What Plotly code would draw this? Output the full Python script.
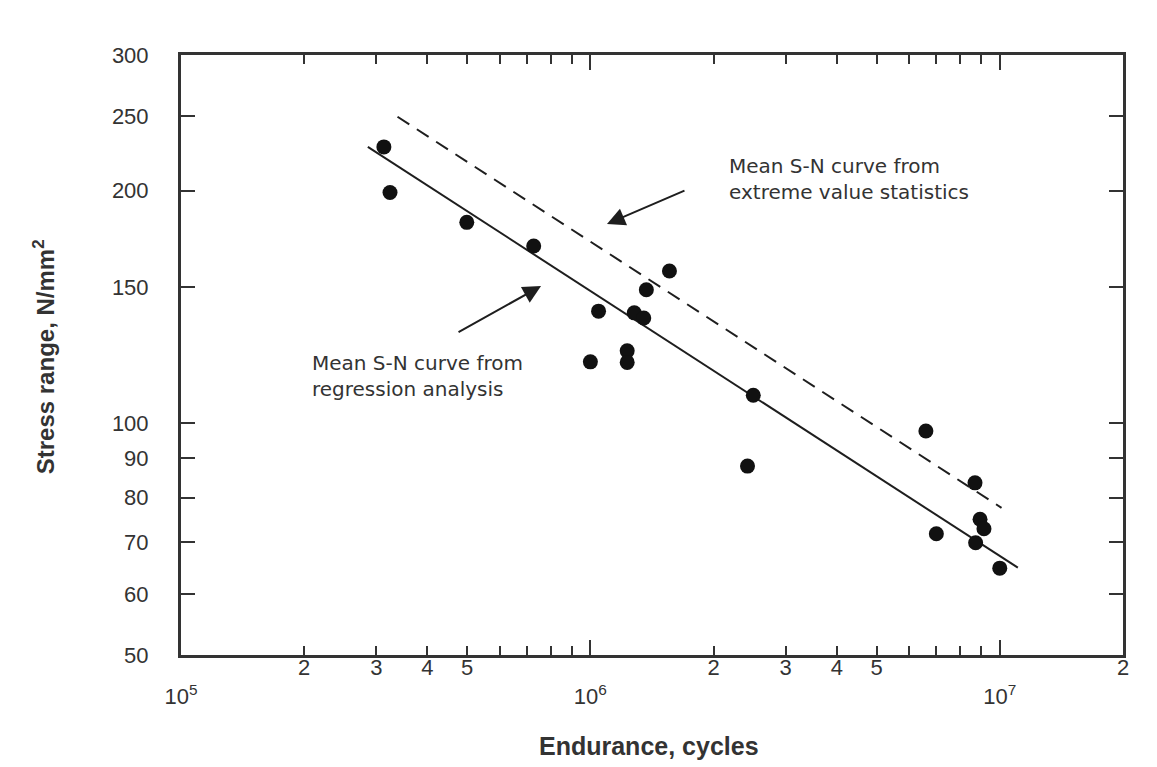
import math
import plotly.graph_objects as go

# ---- data ----
endurance = [3.13e5, 3.24e5, 4.99e5, 7.27e5, 1.047e6, 1.0e6, 1.23e6, 1.23e6,
             1.28e6, 1.35e6, 1.37e6, 1.56e6, 2.5e6, 2.42e6, 6.6e6, 7.0e6,
             8.7e6, 8.95e6, 9.15e6, 8.73e6, 1.0e7]
stress = [228, 199, 182, 169.6, 139.6, 120, 124, 119.8,
          138.9, 136.8, 148.8, 157.4, 108.6, 87.9, 97.6, 71.8,
          83.6, 75.0, 72.9, 69.9, 64.8]

regression_N = [2.86e5, 1.107e7]
regression_S = [228, 64.9]
extreme_N = [3.38e5, 1.01e7]
extreme_S = [249.5, 77.6]

y_ticks = [50, 60, 70, 80, 90, 100, 150, 200, 250, 300]
decades = [1e5, 1e6, 1e7]
x_major = [1e5, 2e5, 3e5, 4e5, 5e5, 1e6, 2e6, 3e6, 4e6, 5e6, 1e7, 2e7]
x_major_text = ['<br>10<sup>5</sup>', '2', '3', '4', '5',
                '<br>10<sup>6</sup>', '2', '3', '4', '5',
                '<br>10<sup>7</sup>', '2']
x_minor = [6e5, 7e5, 8e5, 9e5, 6e6, 7e6, 8e6, 9e6]

FONT = "Liberation Sans, Arial, Helvetica, sans-serif"
ANN_FONT = "DejaVu Sans, Liberation Sans, sans-serif"
INK = "#1e1e1e"
AX = "#333333"

fig = go.Figure()
fig.add_trace(go.Scatter(x=regression_N, y=regression_S, mode="lines",
                         line=dict(color=INK, width=2), showlegend=False,
                         hoverinfo="skip"))
fig.add_trace(go.Scatter(x=extreme_N, y=extreme_S, mode="lines", xaxis="x2",
                         line=dict(color=INK, width=2, dash="14px,9px"),
                         showlegend=False, hoverinfo="skip"))
fig.add_trace(go.Scatter(x=endurance, y=stress, mode="markers",
                         marker=dict(size=15, color="#111111"),
                         showlegend=False))

xr = [math.log10(1e5), math.log10(2e7)]
fig.update_layout(
    width=1149, height=759,
    margin=dict(l=173, r=34, t=47, b=112),
    paper_bgcolor="white", plot_bgcolor="white",
    font=dict(family=FONT, size=22, color=AX),
    xaxis=dict(type="log", range=xr, tickvals=x_major, ticktext=x_major_text,
               ticks="inside", ticklen=9, tickwidth=1.8, tickcolor=AX,
               showline=True, linewidth=3, linecolor=AX, mirror="ticks",
               showgrid=False, zeroline=False, ticklabelstandoff=-9,
               minor=dict(tickvals=x_minor, ticks="inside", ticklen=9,
                          tickwidth=1.8, tickcolor=AX, showgrid=False),
               tickfont=dict(size=22, color=AX)),
    xaxis2=dict(type="log", range=xr, overlaying="x", anchor="y", side="bottom",
                tickvals=decades, ticks="inside", ticklen=15, tickwidth=1.8,
                tickcolor=AX, showticklabels=False, showgrid=False,
                showline=False, mirror="ticks", zeroline=False),
    yaxis=dict(type="log", range=[math.log10(50), math.log10(300)],
               tickvals=y_ticks, ticktext=[str(v) for v in y_ticks],
               ticks="inside", ticklen=14, tickwidth=1.8, tickcolor=AX,
               showline=True, linewidth=3, linecolor=AX, mirror="ticks",
               showgrid=False, zeroline=False, ticklabelstandoff=25,
               tickfont=dict(size=22, color=AX)),
    annotations=[
        dict(text="<b>Endurance, cycles</b>", xref="paper", yref="paper",
             x=0.497, y=-0.152, xanchor="center", yanchor="middle",
             showarrow=False, font=dict(size=25, color=AX, family=FONT)),
        dict(text="<b>Stress range, N/mm<sup>2</sup></b>", xref="paper",
             yref="paper", x=-0.146, y=0.497, xanchor="center",
             yanchor="middle", textangle=-90, showarrow=False,
             font=dict(size=24, color=AX, family=FONT)),
        dict(text="Mean S-N curve from<br>extreme value statistics",
             xref="paper", yref="paper", x=0.5796, y=0.793,
             xanchor="left", yanchor="middle", align="left", showarrow=False,
             font=dict(size=20, color=AX, family=ANN_FONT)),
        dict(text="Mean S-N curve from<br>regression analysis",
             xref="paper", yref="paper", x=0.137, y=0.465,
             xanchor="left", yanchor="middle", align="left", showarrow=False,
             font=dict(size=20, color=AX, family=ANN_FONT)),
        dict(text="", xref="paper", yref="paper", x=0.4522, y=0.7183,
             ax=79, ay=-34, showarrow=True, arrowhead=2, arrowsize=1.8,
             arrowwidth=2, arrowcolor=INK),
        dict(text="", xref="paper", yref="paper", x=0.3822, y=0.615,
             ax=-84, ay=47, showarrow=True, arrowhead=2, arrowsize=1.8,
             arrowwidth=2, arrowcolor=INK),
    ],
)

fig.write_html("out.html")
